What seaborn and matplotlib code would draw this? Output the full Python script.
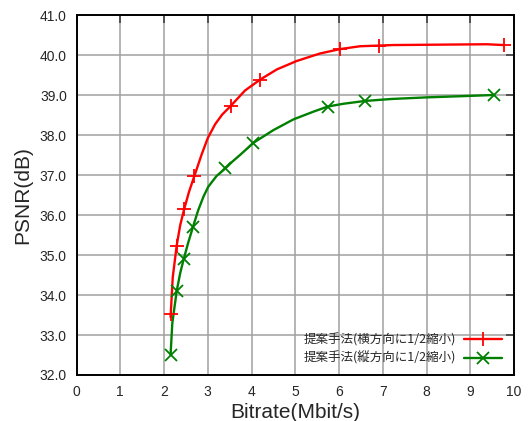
import numpy as np
import pandas as pd
import seaborn as sns
import matplotlib
matplotlib.use("Agg")
import matplotlib.pyplot as plt
from matplotlib.lines import Line2D
from matplotlib.ticker import FormatStrFormatter

# measured points (markers)
h_rate = [2.15, 2.29, 2.46, 2.69, 3.52, 4.19, 6.03, 6.91, 9.76]
h_psnr = [33.52, 35.24, 36.15, 36.97, 38.73, 39.39, 40.16, 40.24, 40.26]
v_rate = [2.15, 2.29, 2.45, 2.66, 3.40, 4.04, 5.74, 6.59, 9.54]
v_psnr = [32.51, 34.10, 34.90, 35.70, 37.17, 37.81, 38.72, 38.86, 39.01]

# smooth curve
h_curve_x = [2.15, 2.20, 2.29, 2.37, 2.46, 2.57, 2.69, 2.86, 3.00, 3.17, 3.33, 3.52, 3.85,
             4.19, 4.58, 5.03, 5.57, 6.03, 6.48, 7.23, 8.30, 9.38, 9.76]
h_curve_y = [33.45, 34.45, 35.24, 35.75, 36.15, 36.58, 36.97, 37.52, 37.93, 38.28, 38.52, 38.73, 39.12,
             39.39, 39.65, 39.86, 40.05, 40.16, 40.23, 40.26, 40.27, 40.28, 40.26]
v_curve_x = [2.15, 2.19, 2.29, 2.37, 2.45, 2.55, 2.66, 2.78, 2.90, 3.01, 3.20, 3.40, 3.56,
             3.74, 4.04, 4.50, 4.96, 5.41, 5.74, 6.10, 6.59, 7.20, 8.00, 8.80, 9.54]
v_curve_y = [32.51, 33.30, 34.10, 34.55, 34.90, 35.30, 35.70, 36.12, 36.46, 36.71, 36.98, 37.17, 37.34,
             37.51, 37.81, 38.13, 38.40, 38.59, 38.72, 38.79, 38.86, 38.91, 38.95, 38.98, 39.01]

labels = ["提案手法(横方向に1/2縮小)", "提案手法(縦方向に1/2縮小)"]
colors = ["#ff0000", "#008000"]

sns.set_style("white")
plt.rcParams['font.family'] = ['Liberation Sans', 'DejaVu Sans']

fig = plt.figure(figsize=(5.28, 4.21), dpi=100)
ax = fig.add_axes([0.1449, 0.1093, 0.8286, 0.8539])

curves = [(h_curve_x, h_curve_y), (v_curve_x, v_curve_y)]
points = [(h_rate, h_psnr), (v_rate, v_psnr)]
marks = ["+", "x"]
sizes = [10, 8.5]
for (cx, cy), (px, py), c, m, ms in zip(curves, points, colors, marks, sizes):
    sns.lineplot(x=cx, y=cy, ax=ax, color=c, linewidth=1.7, sort=False, zorder=3)
    ax.plot(px, py, linestyle="none", marker=m, markersize=ms, markeredgewidth=1.3,
            color=c, zorder=4)

ax.set_xlim(0, 10)
ax.set_ylim(32, 41)
ax.set_xticks(range(0, 11))
ax.set_yticks(np.arange(32, 41.5, 1))
ax.yaxis.set_major_formatter(FormatStrFormatter("%.1f"))
ax.grid(True, color="#a0a0a0", linewidth=1.1)
ax.set_axisbelow(True)
ax.tick_params(direction="in", length=6, width=1.2, color="#404040",
               top=True, right=True, labelsize=10, pad=7)
for s in ax.spines.values():
    s.set_color("black")
    s.set_linewidth(1.4)

ax.set_xlabel("Bitrate(Mbit/s)", fontsize=15, labelpad=3)
ax.set_ylabel("PSNR(dB)", fontsize=15, labelpad=5)

handles = [Line2D([], [], color=c, linewidth=1.7, marker=m, markersize=ms,
                  markeredgewidth=1.3) for c, m, ms in zip(colors, marks, sizes)]
ax.legend(handles, labels, loc="lower right", frameon=False, markerfirst=False,
          prop={'family': ['Noto Sans CJK JP', 'DejaVu Sans'], 'size': 9},
          handlelength=3.0, handletextpad=0.7, labelspacing=0.45,
          bbox_to_anchor=(0.995, 0.0), borderaxespad=0.4)

fig.savefig("out.png", dpi=100)
